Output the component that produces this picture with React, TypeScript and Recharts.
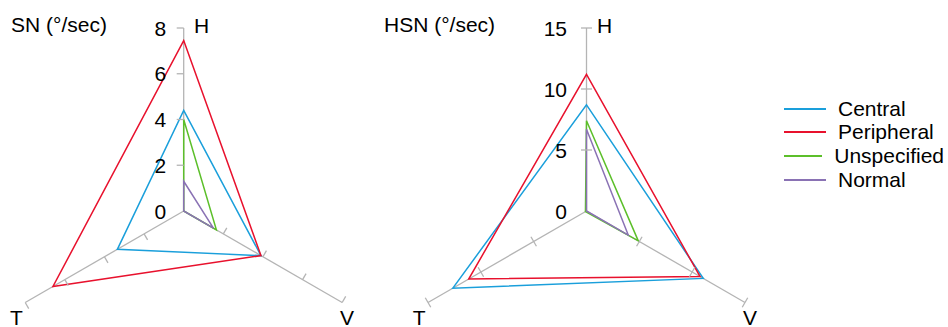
import React from 'react';
import { Legend, PolarAngleAxis, PolarGrid, PolarRadiusAxis, Radar, RadarChart } from 'recharts';

const axisNames = ['H', 'V', 'T'];
const seriesNames = ['Central', 'Peripheral', 'Unspecified', 'Normal'];
const seriesColors = ['#1a9fdb', '#e8112d', '#5cbf2a', '#8a72b4'];

// SN (°/sec), values for H, V, T
const snCentral = [4.4, 3.9, 3.35];
const snPeripheral = [7.45, 3.9, 6.6];
const snUnspecified = [4.0, 1.65, 0];
const snNormal = [1.3, 1.5, 0];

// HSN (°/sec), values for H, V, T
const hsnCentral = [8.7, 11.05, 12.65];
const hsnPeripheral = [11.2, 10.75, 11.15];
const hsnUnspecified = [7.4, 4.9, 0.1];
const hsnNormal = [6.7, 3.95, 0];

const FONT = '"Liberation Sans", Arial, Helvetica, sans-serif';
const GRAY = '#b4b4b4';
const FONT_SIZE = 21;
const CY = 211;
const spokeAngles = [90, 210, -30];

function buildRows(series: number[][]) {
  return axisNames.map((axis, i) => {
    const row: any = { axis };
    seriesNames.forEach((name, s) => {
      row[name] = series[s][i];
    });
    return row;
  });
}

const snRows = buildRows([snCentral, snPeripheral, snUnspecified, snNormal]);
const hsnRows = buildRows([hsnCentral, hsnPeripheral, hsnUnspecified, hsnNormal]);

// the H axis tick also marks the same radius on the V and T spokes
function radiusTick(cx: number, centered: boolean, labelGap: number) {
  return (props: any) => {
    const { x, y, payload } = props;
    const r = CY - y;
    const len = centered ? 5.5 : 7;
    return (
      <g>
        {payload.value !== 0 &&
          spokeAngles.map((angle) => {
            const rad = (angle * Math.PI) / 180;
            const sx = cx + r * Math.cos(rad);
            const sy = CY - r * Math.sin(rad);
            const px = -Math.sin(rad);
            const py = -Math.cos(rad);
            return (
              <line
                key={angle}
                x1={centered ? sx - px * len : sx}
                y1={centered ? sy - py * len : sy}
                x2={sx + px * len}
                y2={sy + py * len}
                stroke={GRAY}
                strokeWidth={1.3}
              />
            );
          })}
        <text
          x={x - labelGap}
          y={y + 7.5}
          textAnchor="end"
          fontSize={FONT_SIZE}
          fontFamily={FONT}
          fill="#000"
        >
          {payload.value}
        </text>
      </g>
    );
  };
}

const angleOffsets: Record<string, [number, number]> = {
  H: [18, 5.5],
  V: [-2, 10.5],
  T: [-2, 10.5],
};

function AngleTick(props: any) {
  const { x, y, payload } = props;
  const [dx, dy] = angleOffsets[payload.value] ?? [0, 0];
  return (
    <text
      x={x + dx}
      y={y + dy + 7.5}
      textAnchor="middle"
      fontSize={FONT_SIZE}
      fontFamily={FONT}
      fill="#000"
    >
      {payload.value}
    </text>
  );
}

function LegendList() {
  return (
    <div style={{ fontFamily: FONT, fontSize: FONT_SIZE }}>
      {seriesNames.map((name, s) => (
        <div key={name} style={{ display: 'flex', alignItems: 'center', height: 23.7, lineHeight: '23.7px' }}>
          <div style={{ width: 42, height: 0, borderTop: `2px solid ${seriesColors[s]}`, marginRight: 12 }} />
          <span style={{ color: '#000', whiteSpace: 'nowrap' }}>{name}</span>
        </div>
      ))}
    </div>
  );
}

function Spider({ rows, max, tickCount, cx, width, centered, labelGap, legend }: any) {
  return (
    <RadarChart
      width={width}
      height={327}
      cx={cx}
      cy={CY}
      outerRadius={183}
      data={rows}
      margin={{ top: 0, right: 0, bottom: 0, left: 0 }}
    >
      <PolarGrid gridType="polygon" polarRadius={[0]} stroke={GRAY} strokeWidth={1.3} />
      <PolarAngleAxis dataKey="axis" tick={AngleTick} tickLine={false} axisLine={false} tickSize={8} />
      <PolarRadiusAxis
        angle={90}
        domain={[0, max]}
        tickCount={tickCount}
        type="number"
        stroke={GRAY}
        axisLine={false}
        tick={radiusTick(cx, centered, labelGap)}
      />
      {seriesNames.map((name, s) => (
        <Radar
          key={name}
          dataKey={name}
          name={name}
          stroke={seriesColors[s]}
          strokeWidth={1.5}
          fill="none"
          fillOpacity={0}
          dot={false}
          isAnimationActive={false}
        />
      ))}
      {legend && (
        <Legend
          layout="vertical"
          align="right"
          verticalAlign="middle"
          content={LegendList}
          wrapperStyle={{ position: 'absolute', left: 414, top: 96.7, width: 160 }}
        />
      )}
    </RadarChart>
  );
}

export default function App() {
  const titleStyle: React.CSSProperties = {
    position: 'absolute',
    top: 12.5,
    fontFamily: FONT,
    fontSize: FONT_SIZE,
    lineHeight: '24px',
    whiteSpace: 'nowrap',
    color: '#000',
  };
  return (
    <div style={{ position: 'absolute', left: 0, top: 0, width: 948, height: 327, background: '#fff' }}>
      <div style={{ position: 'absolute', left: 0, top: 0 }}>
        <Spider rows={snRows} max={8} tickCount={5} cx={183.7} width={370} centered={false} labelGap={17.5} />
      </div>
      <div style={{ position: 'absolute', left: 370, top: 0 }}>
        <Spider rows={hsnRows} max={15} tickCount={4} cx={216.5} width={578} centered labelGap={19.5} legend />
      </div>
      <div style={{ ...titleStyle, left: 11 }}>SN (°/sec)</div>
      <div style={{ ...titleStyle, left: 384 }}>HSN (°/sec)</div>
    </div>
  );
}
